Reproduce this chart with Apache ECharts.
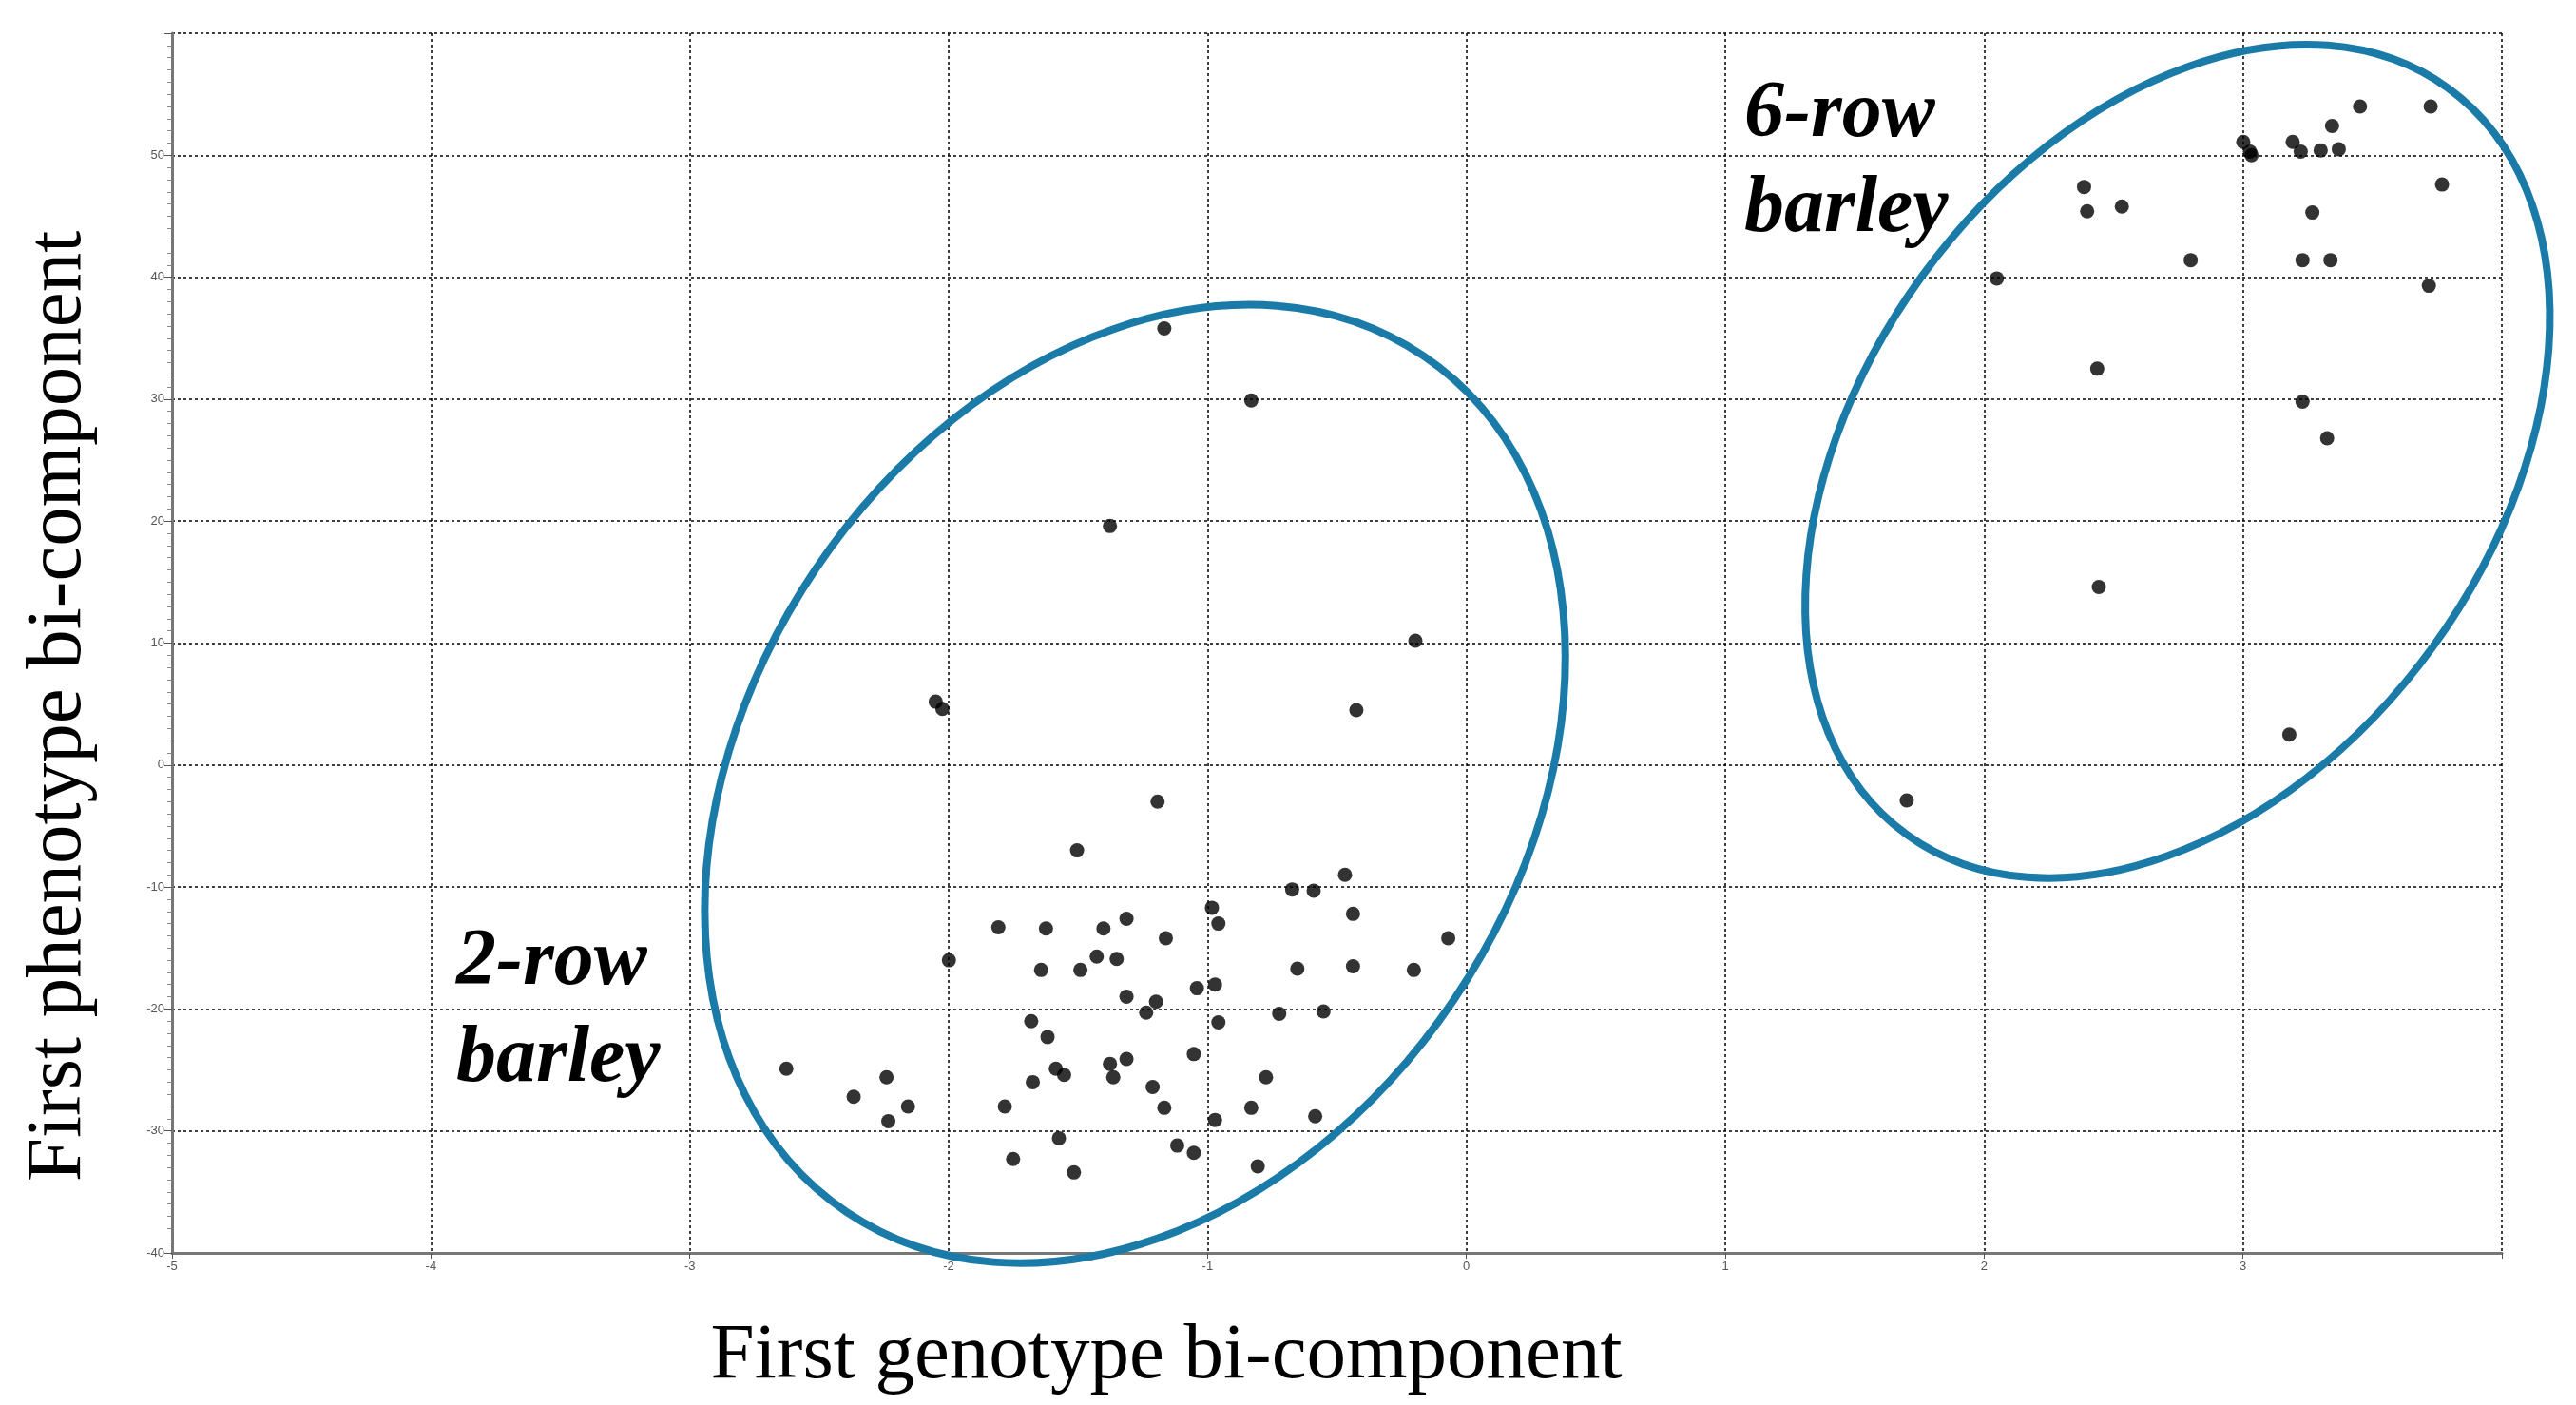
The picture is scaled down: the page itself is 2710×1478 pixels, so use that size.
<!DOCTYPE html>
<html>
<head>
<meta charset="utf-8">
<script src="https://cdn.jsdelivr.net/npm/echarts@6/dist/echarts.min.js"></script>
<style>html,body{margin:0;padding:0;background:#fff}#chart{width:2710px;height:1478px}</style>
</head>
<body>
<div id="chart"></div>
<script>
// two-row barley (genotype, phenotype)
var twoRowX = [-1.167,-0.831,-1.377,-0.197,-2.050,-2.024,-0.425,-1.193,-1.504,-0.469,-0.673,-0.590,-0.983,-0.438,-1.313,-0.958,-1.808,-1.624,-1.402,-1.161,-0.070,-1.999,-1.428,-1.351,-1.491,-1.643,-0.653,-0.438,-0.203,-0.971,-1.041,-1.313,-1.199,-1.237,-0.958,-1.681,-0.723,-0.552,-1.618,-1.377,-1.364,-1.313,-1.053,-1.586,-1.554,-2.627,-2.240,-0.774,-1.675,-1.212,-2.367,-2.157,-1.783,-1.167,-0.831,-2.233,-0.971,-0.584,-1.574,-1.117,-1.053,-1.751,-0.806,-1.516];
var twoRowY = [35.8,29.9,19.6,10.2,5.2,4.6,4.5,-3.0,-7.0,-9.0,-10.2,-10.3,-11.7,-12.2,-12.6,-13.0,-13.3,-13.4,-13.4,-14.2,-14.2,-16.0,-15.7,-15.9,-16.8,-16.8,-16.7,-16.5,-16.8,-18.0,-18.3,-19.0,-19.4,-20.3,-21.1,-21.0,-20.4,-20.2,-22.3,-24.5,-25.6,-24.1,-23.7,-24.9,-25.4,-24.9,-25.6,-25.6,-26.0,-26.4,-27.2,-28.0,-28.0,-28.1,-28.1,-29.2,-29.1,-28.8,-30.6,-31.2,-31.8,-32.3,-32.9,-33.4];
// six-row barley
var sixRowX = [3.001,3.027,3.033,3.192,3.223,3.300,3.370,3.344,3.452,3.725,3.769,2.386,2.398,2.532,3.268,2.798,3.230,3.338,2.049,3.718,2.437,3.230,3.325,2.443,3.179,1.701];
var sixRowY = [51.1,50.3,50.0,51.1,50.3,50.4,50.5,52.4,54.0,54.0,47.6,47.4,45.4,45.8,45.3,41.4,41.4,41.4,39.9,39.3,32.5,29.8,26.8,14.6,2.5,-2.9];
// group ellipses: centre (data units), semi-axes (px), tilt (deg, clockwise)
var ellipses = [
  {cx: -1.28, cy: -1.55, a: 543, b: 405, tilt: 34},
  {cx: 2.747, cy: 24.9, a: 485, b: 332, tilt: 36}
];

function zip(xs, ys) { return xs.map(function (x, i) { return [x, ys[i]]; }); }

var chart = echarts.init(document.getElementById('chart'));
var gridLine = {show: true, lineStyle: {color: '#000', type: [3, 3], width: 1.5}};
var option = {
  animation: false,
  backgroundColor: '#fff',
  grid: {left: 181, right: 78, top: 35, bottom: 160},
  xAxis: {
    type: 'value', min: -5, max: 4, interval: 1,
    axisLine: {onZero: false, lineStyle: {color: '#777', width: 3}},
    axisTick: {show: true, length: 6, lineStyle: {color: '#555'}},
    axisLabel: {fontSize: 13, color: '#555', formatter: function (v) { return v === 4 ? '' : v; }},
    splitLine: gridLine
  },
  yAxis: {
    type: 'value', min: -40, max: 60, interval: 10,
    axisLine: {onZero: false, lineStyle: {color: '#777', width: 3}},
    axisTick: {show: true, length: 8, lineStyle: {color: '#555'}},
    minorTick: {show: true, splitNumber: 10, length: 5, lineStyle: {color: '#888'}},
    axisLabel: {fontSize: 13, color: '#555', formatter: function (v) { return v === 60 ? '' : v; }},
    splitLine: gridLine
  },
  series: [
    {type: 'scatter', data: zip(twoRowX, twoRowY), symbolSize: 15, itemStyle: {color: '#000'}},
    {type: 'scatter', data: zip(sixRowX, sixRowY), symbolSize: 15, itemStyle: {color: '#000'}}
  ]
};
chart.setOption(option);

var labelStyle = {fontFamily: 'Liberation Serif', fontSize: 84, fontWeight: 'bold', fontStyle: 'italic', fill: '#000', textVerticalAlign: 'middle'};
var titleStyle = {fontFamily: 'Liberation Serif', fontSize: 83, fill: '#000', textAlign: 'center', textVerticalAlign: 'middle'};
var graphics = ellipses.map(function (e) {
  var p = chart.convertToPixel({gridIndex: 0}, [e.cx, e.cy]);
  return {
    type: 'ellipse', x: p[0], y: p[1], rotation: -e.tilt * Math.PI / 180, z: 1,
    shape: {cx: 0, cy: 0, rx: e.b, ry: e.a},
    style: {fill: 'none', stroke: '#1a7aa8', lineWidth: 8}
  };
});
graphics.push(
  {type: 'text', x: 1835, y: 121, style: Object.assign({text: '6-row'}, labelStyle)},
  {type: 'text', x: 1835, y: 221, style: Object.assign({text: 'barley'}, labelStyle)},
  {type: 'text', x: 480, y: 1013, style: Object.assign({text: '2-row'}, labelStyle)},
  {type: 'text', x: 480, y: 1115, style: Object.assign({text: 'barley'}, labelStyle)},
  {type: 'text', x: 1227, y: 1427, style: Object.assign({text: 'First genotype bi-component'}, titleStyle)},
  {type: 'text', x: 62, y: 743, rotation: Math.PI / 2, style: Object.assign({text: 'First phenotype bi-component'}, titleStyle)}
);
chart.setOption({graphic: graphics});
</script>
</body>
</html>
